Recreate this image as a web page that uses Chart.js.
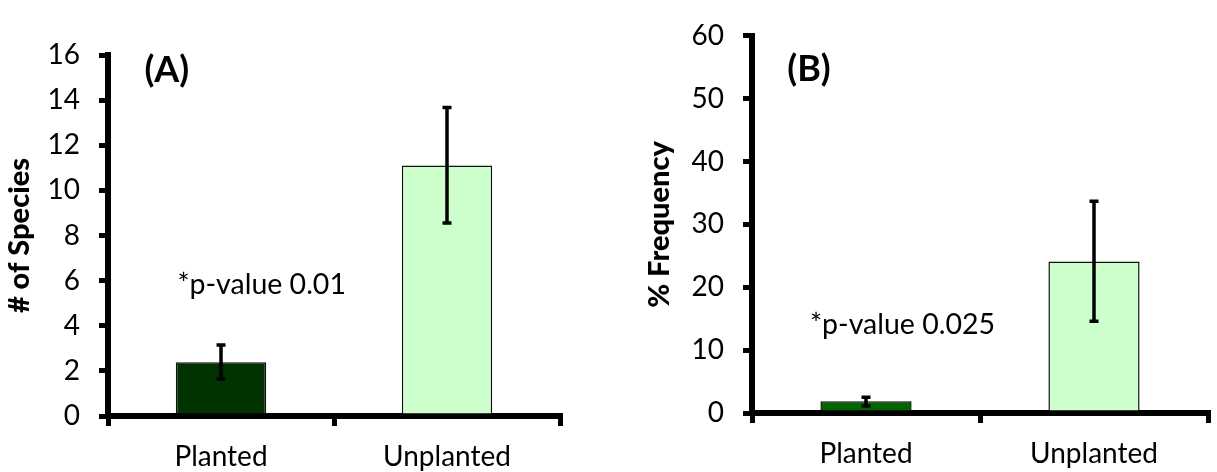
<!DOCTYPE html>
<html>
<head>
<meta charset="utf-8">
<script src="https://cdn.jsdelivr.net/npm/chart.js@4"></script>
<style>
  html, body { margin: 0; padding: 0; background: #fff; }
  body { width: 1217px; height: 472px; position: relative; overflow: hidden; }
  .box { position: absolute; top: 0; height: 472px; }
  #boxA { left: 0; width: 600px; }
  #boxB { left: 640px; width: 577px; }
</style>
</head>
<body>
<div class="box" id="boxA"><canvas id="chartA" width="600" height="472"></canvas></div>
<div class="box" id="boxB"><canvas id="chartB" width="577" height="472"></canvas></div>
<script>
const categories = ["Planted", "Unplanted"];

// (A) number of species
const speciesMean = [2.38, 11.1];
const speciesLow = [1.64, 8.55];
const speciesHigh = [3.15, 13.67];
const speciesTicks = { min: 0, max: 16, step: 2 };

// (B) percent frequency
const freqMean = [1.85, 24.1];
const freqLow = [1.1, 14.6];
const freqHigh = [2.5, 33.7];
const freqTicks = { min: 0, max: 60, step: 10 };

const FONT = "Lato, 'Open Sans', sans-serif";

// draws the black error bars through the chart's own scales
const errorBars = {
  id: "errorBars",
  afterDatasetsDraw(chart, args, opts) {
    const ctx = chart.ctx;
    const x = chart.scales.x, y = chart.scales.y;
    ctx.save();
    ctx.strokeStyle = "#000";
    ctx.lineWidth = 3.5;
    opts.low.forEach((lo, i) => {
      const px = x.getPixelForValue(i);
      const top = y.getPixelForValue(opts.high[i]);
      const bot = y.getPixelForValue(lo);
      ctx.beginPath();
      ctx.moveTo(px, top); ctx.lineTo(px, bot);
      ctx.moveTo(px - 4.5, top); ctx.lineTo(px + 4.5, top);
      ctx.moveTo(px - 4.5, bot); ctx.lineTo(px + 4.5, bot);
      ctx.stroke();
    });
    ctx.restore();
  }
};

// panel letter and p-value text, placed in data units
const notes = {
  id: "notes",
  afterDraw(chart, args, opts) {
    const ctx = chart.ctx;
    const x = chart.scales.x, y = chart.scales.y;
    ctx.save();
    ctx.fillStyle = "#000";
    ctx.textAlign = "center";
    ctx.textBaseline = "middle";
    opts.items.forEach(t => {
      ctx.font = t.font;
      ctx.fillText(t.text, x.getPixelForValue(t.at[0]), y.getPixelForValue(t.at[1]));
    });
    ctx.restore();
  }
};

function makeChart(id, cfg) {
  return new Chart(document.getElementById(id), {
    type: "bar",
    data: {
      labels: categories,
      datasets: [{
        data: cfg.mean,
        backgroundColor: cfg.colors,
        borderColor: "#111",
        borderWidth: 1.5,
        barPercentage: 0.8,
        categoryPercentage: 0.5
      }]
    },
    options: {
      responsive: false,
      animation: false,
      layout: { padding: cfg.padding },
      plugins: {
        legend: { display: false },
        tooltip: { enabled: false },
        errorBars: { low: cfg.low, high: cfg.high },
        notes: { items: cfg.notes }
      },
      scales: {
        x: {
          afterFit: s => { s.height = cfg.xHeight; },
          grid: { drawOnChartArea: false, color: "#000", lineWidth: 5, tickLength: 10, offset: true },
          border: { color: "#000", width: 6 },
          ticks: { color: "#000", font: { family: FONT, size: 28 }, padding: 14 }
        },
        y: {
          min: cfg.ticks.min,
          max: cfg.ticks.max,
          afterFit: s => { s.width = cfg.yWidth; },
          grid: { drawOnChartArea: false, color: "#000", lineWidth: 5, tickLength: 9 },
          border: { color: "#000", width: 6 },
          ticks: { stepSize: cfg.ticks.step, color: "#000", font: { family: FONT, size: 28 }, padding: 19 },
          title: {
            display: true,
            text: cfg.title,
            color: "#000",
            font: { family: FONT, size: 29, weight: "900" },
            padding: { top: 2, bottom: 0 }
          }
        }
      }
    },
    plugins: [errorBars, notes]
  });
}

makeChart("chartA", {
  mean: speciesMean, low: speciesLow, high: speciesHigh, ticks: speciesTicks,
  colors: ["#003300", "#CCFFCC"],
  title: "# of Species",
  padding: { top: 55, right: 40, left: 0, bottom: 0 },
  xHeight: 56, yWidth: 108,
  notes: [
    { text: "(A)", at: [-0.24, 15.3], font: "bold 36px " + FONT },
    { text: "*p-value 0.01", at: [0.18, 5.8], font: "28.5px " + FONT }
  ]
});

makeChart("chartB", {
  mean: freqMean, low: freqLow, high: freqHigh, ticks: freqTicks,
  colors: ["#006600", "#CCFFCC"],
  title: "% Frequency",
  padding: { top: 23, right: 9, left: 0, bottom: 0 },
  xHeight: 59, yWidth: 112,
  notes: [
    { text: "(B)", at: [-0.25, 54.6], font: "bold 36px " + FONT },
    { text: "*p-value 0.025", at: [0.16, 14.0], font: "28.5px " + FONT }
  ]
});
</script>
</body>
</html>
